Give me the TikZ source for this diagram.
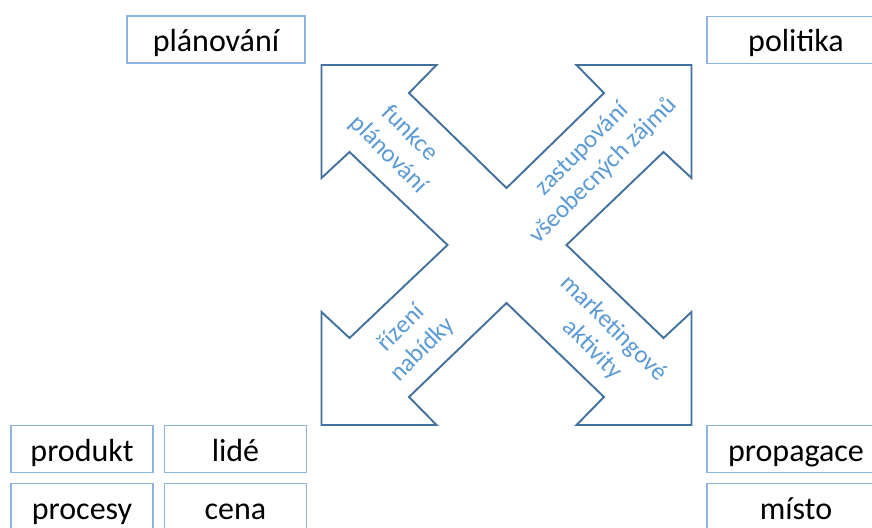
\documentclass[tikz,border=0pt]{standalone}
\usepackage{fontspec}
\setmainfont{Carlito}
\definecolor{arrowline}{RGB}{65,113,156}
\definecolor{boxline}{RGB}{141,180,226}
\definecolor{labelblue}{RGB}{91,155,213}
\tikzset{
  item/.style={draw=boxline, line width=1.4pt, fill=white, inner sep=0pt,
    minimum height=47pt, text height=31pt, text depth=7pt,
    font=\fontsize{32}{38}\selectfont, text=black},
  wide/.style={item, minimum width=178pt},
  narrow/.style={item, minimum width=142pt},
  armlabel/.style={align=center, text=labelblue, inner sep=0pt,
    font=\fontsize{25}{30}\selectfont},
  cross/.style={draw=arrowline, line width=1.9pt, fill=white, line join=miter}
}
\begin{document}
\begin{tikzpicture}[x=1pt, y=-1pt]
\useasboundingbox (0,0) rectangle (872,527);
\clip (0,0) rectangle (872,527);
\fill[white] (0,0) rectangle (872,527);

% four-headed cross arrow
\draw[cross, shift={(506.5,245)}]
  (0,-57) -- (-97.5,-152) -- (-70,-180) -- (-185,-180) -- (-185,-67)
  -- (-157,-93) -- (-59,0) -- (-157,93) -- (-185,67) -- (-185,180)
  -- (-70,180) -- (-97.5,152) -- (0,58) -- (97.5,152) -- (70,180)
  -- (185,180) -- (185,67) -- (157,93) -- (60,0) -- (157,-93)
  -- (185,-67) -- (185,-180) -- (70,-180) -- (97.5,-152) -- cycle;

% labels along the arms
\node[armlabel, rotate=-45] (lplan) at (399,144) {funkce\\plánování};
\node[armlabel, rotate=45] (lzast) at (593,160) {zastupování\\všeobecných zájmů};
\node[armlabel, rotate=45] (lrize) at (412,339) {řízení\\nabídky};
\node[armlabel, rotate=-45] (lmark) at (603,339) {marketingové\\aktivity};

% corner boxes
\node[wide] (planovani) at (216,39.5) {plánování};
\node[wide] (politika) at (796,40) {politika};
\node[narrow] (produkt) at (82,449) {produkt};
\node[narrow] (lide) at (235.5,449) {lidé};
\node[narrow] (procesy) at (82,507) {procesy};
\node[narrow] (cena) at (235.5,507) {cena};
\node[wide] (propagace) at (796,449) {propagace};
\node[wide] (misto) at (796,507) {místo};
\end{tikzpicture}
\end{document}
